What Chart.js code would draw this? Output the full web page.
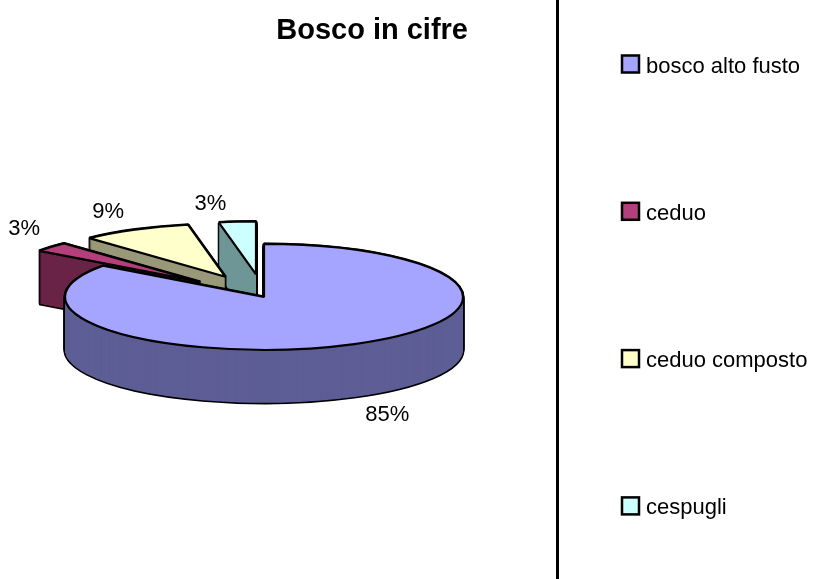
<!DOCTYPE html>
<html>
<head>
<meta charset="utf-8">
<script src="https://cdn.jsdelivr.net/npm/chart.js@4.4.1/dist/chart.umd.min.js"></script>
<style>
  html, body { margin: 0; padding: 0; background: #ffffff; }
  canvas { display: block; }
</style>
</head>
<body>
<canvas id="c" width="837" height="579"></canvas>
<script>
// ---- data ----
const categories = ['bosco alto fusto', 'ceduo', 'ceduo composto', 'cespugli'];
const values = [85, 3, 9, 3];
const topColors = ['#A5A5FF', '#B3407A', '#FFFFCC', '#CCFFFF'];
const sideColors = ['#5E5E96', '#6A2447', '#99997A', '#6E9696'];
const exploded = [false, true, true, true];
const titleText = 'Bosco in cifre';

// ---- style constants ----
const FONT = "'Liberation Sans', Arial, sans-serif";
const TILT = 0.266;     // vertical squash of the pie
const DEPTH = 53;       // thickness of the pie in px
const EXPLODE = 85;     // explosion distance (unsquashed px)

const total = values.reduce((a, b) => a + b, 0);

const pie3d = {
  id: 'pie3d',
  beforeDatasetsDraw(chart) {
    const ctx = chart.ctx;
    const arcs = chart.getDatasetMeta(0).data;
    if (!arcs.length) return false;
    const cx = arcs[0].x, cy = arcs[0].y;
    const base = ctx.getTransform();
    const nativeStroke = CanvasRenderingContext2D.prototype.stroke;
    ctx.stroke = function () { this.save(); this.setTransform(base); nativeStroke.call(this); this.restore(); };

    const mid = el => (el.startAngle + el.endAngle) / 2;
    const drawArc = (el, i, dy, opts) => {
      ctx.save();
      ctx.translate(0, dy);
      ctx.translate(cx, cy);
      ctx.scale(1, TILT);
      ctx.translate(-cx, -cy);
      if (exploded[i]) {
        const m = mid(el);
        ctx.translate(Math.cos(m) * EXPLODE, Math.sin(m) * EXPLODE);
      }
      const saved = el.options;
      el.options = Object.assign({}, saved, opts, { offset: 0 });
      el.draw(ctx);
      el.options = saved;
      ctx.restore();
    };

    const order = arcs.map((a, i) => i).sort((a, b) => Math.sin(mid(arcs[a])) - Math.sin(mid(arcs[b])));
    for (const i of order) {
      const el = arcs[i];
      for (let d = DEPTH; d >= 0; d--) drawArc(el, i, d, { backgroundColor: '#000', borderColor: '#000', borderWidth: 3 });
      for (let d = DEPTH; d >= 1; d--) drawArc(el, i, d, { backgroundColor: sideColors[i], borderWidth: 0 });
      drawArc(el, i, 0, { backgroundColor: topColors[i], borderColor: '#000', borderWidth: 2.2 });
    }
    delete ctx.stroke;

    // percentage labels, placed beside the rim point on the bisector
    ctx.save();
    ctx.fillStyle = '#000';
    ctx.font = '22px ' + FONT;
    ctx.textAlign = 'center';
    ctx.textBaseline = 'middle';
    arcs.forEach((el, i) => {
      const m = mid(el);
      const r = el.outerRadius + (exploded[i] ? EXPLODE : 0);
      let px = cx + Math.cos(m) * r;
      let py = cy + TILT * Math.sin(m) * r;
      if (Math.sin(m) > 0) py += DEPTH;
      const txt = Math.round(values[i] / total * 100) + '%';
      const w = ctx.measureText(txt).width;
      const sx = Math.cos(m) >= 0 ? 1 : -1;
      const sy = Math.sin(m) >= 0 ? 1 : -1;
      ctx.fillText(txt, px + sx * (w / 2 + 11), py + sy * 18);
    });
    ctx.restore();
    return false;
  }
};

const sideLegend = {
  id: 'sideLegend',
  afterDraw(chart) {
    const ctx = chart.ctx;
    let items;
    try { items = Chart.overrides.pie.plugins.legend.labels.generateLabels(chart); }
    catch (e) { items = categories.map((t, i) => ({ text: t, fillStyle: topColors[i] })); }
    ctx.save();
    // separator line
    ctx.strokeStyle = '#000';
    ctx.lineWidth = 3;
    ctx.beginPath();
    ctx.moveTo(557.5, 0);
    ctx.lineTo(557.5, chart.height);
    ctx.stroke();
    const boxX = 622, box = 17, first = 64, step = 147.3;
    ctx.font = '22px ' + FONT;
    ctx.textAlign = 'left';
    ctx.textBaseline = 'alphabetic';
    items.forEach((it, i) => {
      const yc = first + i * step;
      ctx.fillStyle = it.fillStyle;
      ctx.fillRect(boxX, yc - box / 2, box, box);
      ctx.lineWidth = 2.5;
      ctx.strokeStyle = '#000';
      ctx.strokeRect(boxX, yc - box / 2, box, box);
      ctx.fillStyle = '#000';
      ctx.fillText(it.text, boxX + 24, yc + 8.5);
    });
    ctx.restore();
  }
};

new Chart(document.getElementById('c'), {
  type: 'pie',
  data: {
    labels: categories,
    datasets: [{
      data: values,
      backgroundColor: topColors,
      borderColor: '#000',
      borderWidth: 2
    }]
  },
  options: {
    responsive: false,
    animation: false,
    events: [],
    radius: 199,
    layout: { padding: { left: 60, right: 369, top: 0, bottom: 44 } },
    plugins: {
      legend: { display: false },
      tooltip: { enabled: false },
      title: {
        display: true,
        text: titleText,
        align: 'end',
        fullSize: false,
        color: '#000',
        font: { family: FONT, size: 29, weight: 'bold' },
        padding: { top: 14, bottom: 10 }
      }
    }
  },
  plugins: [pie3d, sideLegend]
});
</script>
</body>
</html>
